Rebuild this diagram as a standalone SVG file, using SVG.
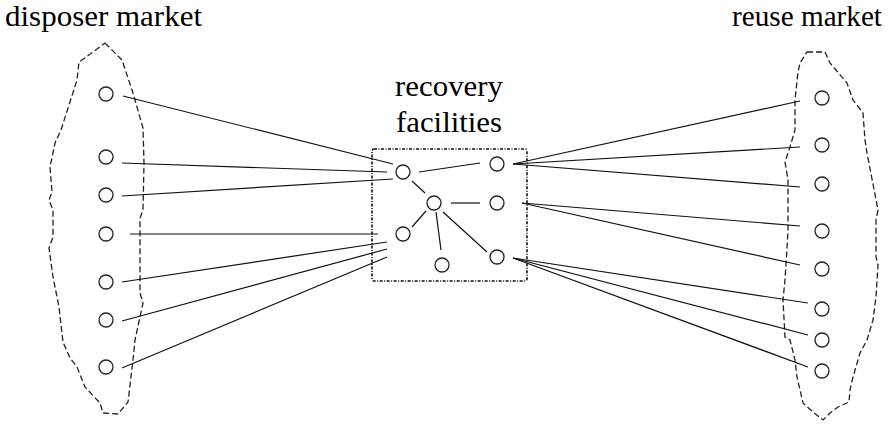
<svg xmlns="http://www.w3.org/2000/svg" width="896" height="424" viewBox="0 0 896 424">
<style>
.t{font-family:"Liberation Serif","Times New Roman",Times,serif;font-size:29.5px;fill:#000}
.n{fill:#fff;stroke:#222;stroke-width:1.3}
.c{stroke:#111;stroke-width:1.2;fill:none}
.blob{fill:none;stroke:#222;stroke-width:1.3;stroke-dasharray:6 3}
.box{fill:none;stroke:#111;stroke-width:1.6;stroke-dasharray:3 1.5 1 1.5}
</style>
<rect width="896" height="424" fill="#fff"/>
<g id="labels">
<text class="t" x="5" y="26" textLength="197" lengthAdjust="spacingAndGlyphs">disposer market</text>
<text class="t" x="732" y="26" textLength="150" lengthAdjust="spacingAndGlyphs">reuse market</text>
<text class="t" x="395" y="96" textLength="108" lengthAdjust="spacingAndGlyphs">recovery</text>
<text class="t" x="396" y="132" textLength="106" lengthAdjust="spacingAndGlyphs">facilities</text>
</g>
<g id="disposer-market">
<path class="blob" d="M105,43 L122,60 L133,93 L137,107 L143,128 L144,163 L143,210 L140,218 L140,293 L143,303 L135,340 L133,360 L128,402 L118,414 L103,413 L100,403 L85,387 L77,367 L70,358 L63,342 L59,307 L53,277 L49,248 L53,237 L53,210 L49,200 L52,192 L50,167 L55,143 L61,130 L77,80 L79,62 L93,52 Z"/>
</g>
<g id="reuse-market">
<path class="blob" d="M807,52 L825,52 L830,63 L847,83 L853,100 L863,113 L865,140 L867,153 L878,210 L876,220 L876,257 L878,265 L876,297 L873,320 L867,340 L860,353 L853,377 L850,390 L849,402 L838,407 L830,413 L823,420 L813,412 L803,403 L797,377 L795,360 L790,340 L785,337 L783,300 L785,280 L787,248 L788,230 L788,180 L785,162 L790,147 L795,130 L795,100 L798,72 L800,63 Z"/>
</g>
<g id="recovery-facilities">
<rect class="box" x="372" y="149" width="155" height="132" rx="2"/>
</g>
<g id="connectors">
<line class="c" x1="123" y1="96" x2="393" y2="164"/>
<line class="c" x1="122" y1="163" x2="387" y2="172"/>
<line class="c" x1="122" y1="196" x2="393" y2="179"/>
<line class="c" x1="130" y1="234" x2="378" y2="234"/>
<line class="c" x1="122" y1="282" x2="387" y2="242"/>
<line class="c" x1="122" y1="321" x2="387" y2="249"/>
<line class="c" x1="122" y1="368" x2="387" y2="257"/>
<line class="c" x1="419" y1="172" x2="480" y2="163"/>
<line class="c" x1="412" y1="181" x2="425" y2="193"/>
<line class="c" x1="451" y1="203" x2="480" y2="203"/>
<line class="c" x1="426" y1="211" x2="412" y2="227"/>
<line class="c" x1="436" y1="212" x2="441" y2="250"/>
<line class="c" x1="443" y1="212" x2="487" y2="252"/>
<line class="c" x1="513" y1="164" x2="800" y2="101"/>
<line class="c" x1="513" y1="164" x2="800" y2="147"/>
<line class="c" x1="513" y1="164" x2="800" y2="187"/>
<line class="c" x1="522" y1="203" x2="800" y2="226"/>
<line class="c" x1="522" y1="203" x2="800" y2="265"/>
<line class="c" x1="513" y1="258" x2="808" y2="303"/>
<line class="c" x1="513" y1="258" x2="808" y2="335"/>
<line class="c" x1="513" y1="258" x2="808" y2="367"/>
</g>
<g id="d1"><circle class="n" cx="106" cy="94" r="7"/></g>
<g id="d2"><circle class="n" cx="106" cy="157" r="7"/></g>
<g id="d3"><circle class="n" cx="106" cy="195" r="7"/></g>
<g id="d4"><circle class="n" cx="106" cy="234" r="7"/></g>
<g id="d5"><circle class="n" cx="106" cy="282" r="7"/></g>
<g id="d6"><circle class="n" cx="106" cy="320" r="7"/></g>
<g id="d7"><circle class="n" cx="106" cy="367" r="7"/></g>
<g id="f1"><circle class="n" cx="403" cy="172" r="7"/></g>
<g id="f2"><circle class="n" cx="497" cy="164" r="7"/></g>
<g id="f3"><circle class="n" cx="434" cy="203" r="7"/></g>
<g id="f4"><circle class="n" cx="497" cy="203" r="7"/></g>
<g id="f5"><circle class="n" cx="403" cy="234" r="7"/></g>
<g id="f6"><circle class="n" cx="442" cy="265" r="7"/></g>
<g id="f7"><circle class="n" cx="497" cy="257" r="7"/></g>
<g id="r1"><circle class="n" cx="822" cy="98" r="7"/></g>
<g id="r2"><circle class="n" cx="822" cy="145" r="7"/></g>
<g id="r3"><circle class="n" cx="822" cy="184" r="7"/></g>
<g id="r4"><circle class="n" cx="822" cy="231" r="7"/></g>
<g id="r5"><circle class="n" cx="822" cy="269" r="7"/></g>
<g id="r6"><circle class="n" cx="822" cy="309" r="7"/></g>
<g id="r7"><circle class="n" cx="822" cy="340" r="7"/></g>
<g id="r8"><circle class="n" cx="822" cy="371" r="7"/></g>
</svg>
